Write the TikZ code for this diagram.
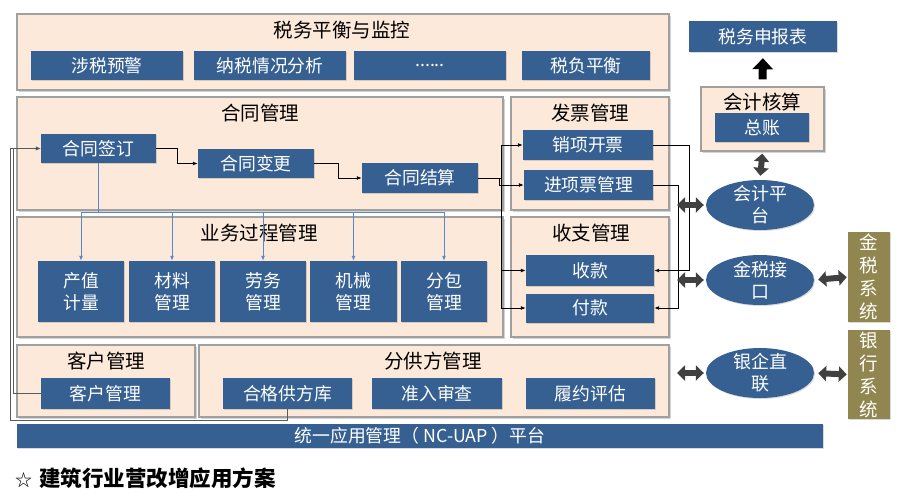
\documentclass[tikz,border=0pt]{standalone}
\usepackage{fontspec}
\setmainfont{Noto Sans CJK SC}
\usetikzlibrary{arrows.meta,shadows,shapes.geometric,calc}
\definecolor{peach}{RGB}{253,233,217}
\definecolor{boxblue}{RGB}{55,96,146}
\definecolor{olivebox}{RGB}{146,134,80}
\definecolor{pborder}{RGB}{160,160,160}
\definecolor{treeblue}{RGB}{88,136,204}
\definecolor{darkarrow}{RGB}{64,64,64}
\definecolor{grayline}{RGB}{90,90,90}
\begin{document}
\begin{tikzpicture}[x=1pt,y=-1pt,
  panel/.style={draw=pborder, line width=1.2pt, fill=peach, inner sep=0pt,
    drop shadow={shadow xshift=1.5pt, shadow yshift=-1.5pt, opacity=0.35}},
  ptitle/.style={inner sep=0pt, text=black, font=\fontsize{19.5}{22}\selectfont},
  bbox/.style={fill=boxblue, text=white, inner sep=0pt, align=center,
    font=\fontsize{17.8}{22}\selectfont,
    drop shadow={shadow xshift=1pt, shadow yshift=-1pt, opacity=0.3}},
  ell/.style={ellipse, fill=boxblue, inner sep=0pt, minimum width=108, minimum height=50,
    drop shadow={shadow xshift=1pt, shadow yshift=-1pt, opacity=0.3}},
  elltext/.style={inner sep=0pt, text=white, align=center, font=\fontsize{18}{22}\selectfont},
  obox/.style={fill=olivebox, text=white, inner sep=0pt, align=center,
    font=\fontsize{18.5}{23}\selectfont,
    drop shadow={shadow xshift=1pt, shadow yshift=-1pt, opacity=0.3}},
  conn/.style={draw=black, line width=0.9pt, -{Latex[length=5pt,width=4pt]}},
  gconn/.style={draw=grayline, line width=0.9pt, -{Latex[length=5pt,width=4pt,fill=black]}},
  tconn/.style={draw=treeblue, line width=0.9pt, -{Latex[length=5pt,width=4pt]}},
  dbl/.style={draw=darkarrow, line width=6pt, {Triangle[width=15pt,length=8pt]}-{Triangle[width=15pt,length=8pt]}},
  uparr/.style={draw=black, line width=8pt, -{Triangle[width=20pt,length=11pt]}}
]
\useasboundingbox (0,0) rectangle (900,493);

% ---------- panels ----------
\node[panel, minimum width=652, minimum height=76] (P1) at (343,52) {};
\node[panel, minimum width=486, minimum height=113] (P2) at (260,153.5) {};
\node[panel, minimum width=158, minimum height=113] (P3) at (590,153.5) {};
\node[panel, minimum width=486, minimum height=120] (P4) at (260,277) {};
\node[panel, minimum width=158, minimum height=120] (P5) at (590,277) {};
\node[panel, minimum width=178, minimum height=72] (P6) at (106,381) {};
\node[panel, minimum width=470, minimum height=72] (P7) at (434,381) {};
\node[panel, minimum width=123, minimum height=64] (P8) at (762.5,119) {};

% ---------- titles ----------
\node[ptitle] (P1t) at (342,30) {税务平衡与监控};
\node[ptitle] (P2t) at (260,113) {合同管理};
\node[ptitle] (P3t) at (590,113) {发票管理};
\node[ptitle] (P4t) at (259,233) {业务过程管理};
\node[ptitle] (P5t) at (591,233) {收支管理};
\node[ptitle] (P6t) at (106,361) {客户管理};
\node[ptitle] (P7t) at (433,361) {分供方管理};
\node[ptitle] (P8t) at (762,102) {会计核算};

% ---------- top boxes ----------
\node[bbox, minimum width=152, minimum height=29] (b1) at (107,65.5) {涉税预警};
\node[bbox, minimum width=152, minimum height=29] (b2) at (270,65.5) {纳税情况分析};
\node[bbox, minimum width=152, minimum height=29] (b3) at (430,65.5) {......};
\node[bbox, minimum width=128, minimum height=29] (b4) at (586,65.5) {税负平衡};

% ---------- contract ----------
\node[bbox, minimum width=115, minimum height=29] (c1) at (98.5,148.5) {合同签订};
\node[bbox, minimum width=116, minimum height=29] (c2) at (256,163.5) {合同变更};
\node[bbox, minimum width=116, minimum height=30] (c3) at (420,178) {合同结算};

% ---------- invoice ----------
\node[bbox, minimum width=130, minimum height=30] (i1) at (588,145) {销项开票};
\node[bbox, minimum width=129, minimum height=30] (i2) at (588.5,185) {进项票管理};

% ---------- business process ----------
\node[bbox, minimum width=86, minimum height=61] (s1) at (81,291.5) {产值\\计量};
\node[bbox, minimum width=86, minimum height=61] (s2) at (172,291.5) {材料\\管理};
\node[bbox, minimum width=86, minimum height=61] (s3) at (263,291.5) {劳务\\管理};
\node[bbox, minimum width=87, minimum height=61] (s4) at (353.5,291.5) {机械\\管理};
\node[bbox, minimum width=86, minimum height=61] (s5) at (444,291.5) {分包\\管理};

% ---------- payments ----------
\node[bbox, minimum width=128, minimum height=31] (r1) at (590,270.5) {收款};
\node[bbox, minimum width=128, minimum height=29] (r2) at (590,308) {付款};

% ---------- customers / suppliers ----------
\node[bbox, minimum width=129, minimum height=31] (k1) at (105.5,393.5) {客户管理};
\node[bbox, minimum width=129, minimum height=31] (f1) at (287.5,393.5) {合格供方库};
\node[bbox, minimum width=130, minimum height=31] (f2) at (437,393.5) {准入审查};
\node[bbox, minimum width=129, minimum height=31] (f3) at (590.5,393.5) {履约评估};

% ---------- platform bar ----------
\node[bbox, minimum width=806, minimum height=24] (bar) at (420,436) {统一应用管理（ NC-UAP ）平台};

% ---------- right side ----------
\node[bbox, minimum width=148, minimum height=31] (t1) at (763,36.5) {税务申报表};
\node[bbox, minimum width=94, minimum height=29] (a1) at (762,127.5) {总账};

\node[ell] (e1) at (760,205) {};
\node[elltext] (e1t) at (e1.center) {会计平\\台};
\node[ell] (e2) at (760,280) {};
\node[elltext] (e2t) at (e2.center) {金税接\\口};
\node[ell] (e3) at (760,373) {};
\node[elltext] (e3t) at (e3.center) {银企直\\联};

\node[obox, minimum width=42, minimum height=90] (g1) at (869,277) {金\\税\\系\\统};
\node[obox, minimum width=42, minimum height=89] (g2) at (869,374.5) {银\\行\\系\\统};

% ---------- caption ----------
\node[inner sep=0pt, anchor=west, font=\fontsize{21.5}{24}\selectfont\bfseries] (cap) at (15,478)
  {{\fontsize{17}{17}\selectfont\mdseries ☆}\hspace{7pt}建筑行业营改增应用方案};

% ---------- contract flow connectors ----------
\draw[conn] (c1.east) -- ++(21,0) |- (c2.west);
\draw[conn] (c2.east) -- ++(24,0) |- (c3.west);
\draw[conn] (c3.east) -- ++(23,0) |- (i1.west);
\draw[conn] (c3.east) -- ++(21,0) |- (i2.west);
\draw[conn] (c3.east) -- ++(23,0) |- (r1.west);
\draw[conn] (c3.east) -- ++(23,0) |- (r2.west);
\draw[conn] (i1.east) -- ++(36,0) |- (r1.east);
\draw[conn] (i2.east) -- ++(25,0) |- (r2.east);

% ---------- blue tree ----------
\coordinate (jn) at (98.5,212);
\draw[draw=treeblue, line width=0.9pt] (c1.south) -- (jn);
\foreach \s in {s1,s2,s3,s4,s5} {\draw[tconn] (jn) -| (\s.north);}

% ---------- gray feedback lines ----------
\coordinate (L1) at (10,420);
\coordinate (L2) at (13,148.5);
\draw[gconn] (f1.south) |- (L1) |- (c1.west);
\draw[gconn] (k1.west) -| (L2) -- (c1.west);

% ---------- thick arrows ----------
\draw[uparr, shorten <=7pt, shorten >=6pt] (P8.north) -- (t1.south);
\draw[dbl, shorten <=2pt, shorten >=4pt] (P8.south) -- (e1.north);
\coordinate (d1) at (677,205);
\coordinate (d2) at (677,280);
\coordinate (d3) at (677,373);
\draw[dbl, shorten >=2pt] (d1) -- (e1.west);
\draw[dbl, shorten >=2pt] (d2) -- (e2.west);
\draw[dbl, shorten >=2pt] (d3) -- (e3.west);
\draw[dbl, shorten <=4pt, shorten >=1pt] (e2.east) -- (g1.west);
\draw[dbl, shorten <=4pt, shorten >=1pt] (e3.east) -- (g2.west);
\end{tikzpicture}
\end{document}
